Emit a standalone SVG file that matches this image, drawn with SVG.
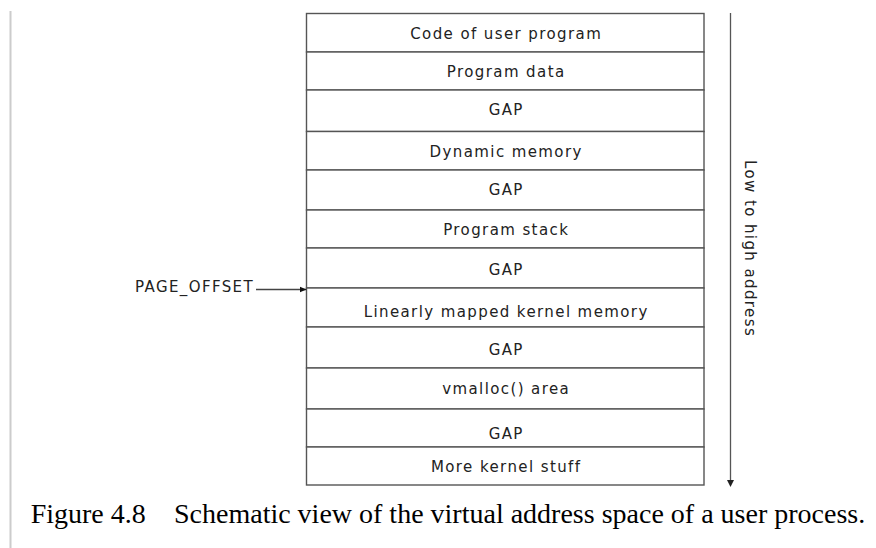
<svg xmlns="http://www.w3.org/2000/svg" width="876" height="548" viewBox="0 0 876 548">
<style>
.cell{fill:#fff;stroke:#555;stroke-width:1.4}
.lbl{font-family:"DejaVu Sans",sans-serif;font-size:15px;letter-spacing:1.4px;fill:#222;text-anchor:middle}
.side{font-family:"DejaVu Sans",sans-serif;font-size:15px;letter-spacing:1.4px;fill:#222}
.cap{font-family:"Liberation Serif","Times New Roman",serif;font-size:28px;fill:#000}
.conn{stroke:#444;stroke-width:1.3;fill:none}
</style>
<defs>
<marker id="ah" markerWidth="8" markerHeight="8" refX="7" refY="4" orient="auto" markerUnits="userSpaceOnUse">
<path d="M0,1 L7,4 L0,7 Z" fill="#111"/>
</marker>
</defs>
<rect width="876" height="548" fill="#fff"/>
<line x1="10.5" y1="11" x2="10.5" y2="548" stroke="#ccc" stroke-width="2"/>
<g id="n1"><rect class="cell" x="306.5" y="13.5" width="397.5" height="38.5"/><text class="lbl" x="506.2" y="39">Code of user program</text></g>
<g id="n2"><rect class="cell" x="306.5" y="52" width="397.5" height="38"/><text class="lbl" x="506.2" y="76.5">Program data</text></g>
<g id="n3"><rect class="cell" x="306.5" y="90" width="397.5" height="41.5"/><text class="lbl" x="506.2" y="115">GAP</text></g>
<g id="n4"><rect class="cell" x="306.5" y="131.5" width="397.5" height="38.5"/><text class="lbl" x="506.2" y="156.5">Dynamic memory</text></g>
<g id="n5"><rect class="cell" x="306.5" y="170" width="397.5" height="40"/><text class="lbl" x="506.2" y="195">GAP</text></g>
<g id="n6"><rect class="cell" x="306.5" y="210" width="397.5" height="38"/><text class="lbl" x="506.2" y="235">Program stack</text></g>
<g id="n7"><rect class="cell" x="306.5" y="248" width="397.5" height="40"/><text class="lbl" x="506.2" y="275">GAP</text></g>
<g id="n8"><rect class="cell" x="306.5" y="288" width="397.5" height="39"/><text class="lbl" x="506.2" y="316.5">Linearly mapped kernel memory</text></g>
<g id="n9"><rect class="cell" x="306.5" y="327" width="397.5" height="41"/><text class="lbl" x="506.2" y="355">GAP</text></g>
<g id="n10"><rect class="cell" x="306.5" y="368" width="397.5" height="41"/><text class="lbl" x="506.2" y="393.5">vmalloc() area</text></g>
<g id="n11"><rect class="cell" x="306.5" y="409" width="397.5" height="38"/><text class="lbl" x="506.2" y="439">GAP</text></g>
<g id="n12"><rect class="cell" x="306.5" y="447" width="397.5" height="38"/><text class="lbl" x="506.2" y="471.5">More kernel stuff</text></g>
<g id="page-offset"><text class="side" x="135" y="292">PAGE_OFFSET</text></g>
<g id="address-label"><text class="side" transform="translate(745,160) rotate(90)">Low to high address</text></g>
<g id="connectors">
<line class="conn" x1="256" y1="289.5" x2="306.5" y2="289.5" marker-end="url(#ah)"/>
<line x1="730.5" y1="13" x2="730.5" y2="481" stroke="#555" stroke-width="1.3"/>
<path d="M727,480 L734,480 L730.5,487 Z" fill="#222"/>
</g>
<g id="caption">
<text class="cap" x="30.7" y="523">Figure 4.8</text>
<text class="cap" x="174" y="523">Schematic view of the virtual address space of a user process.</text>
</g>
</svg>
